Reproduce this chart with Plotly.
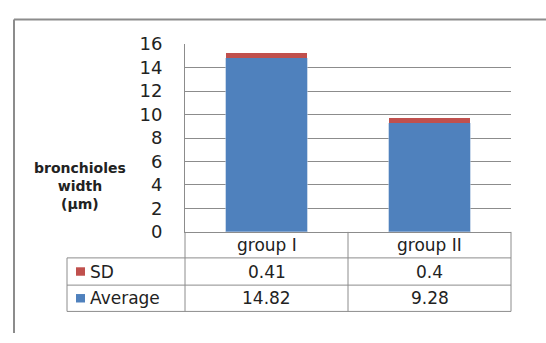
import plotly.graph_objects as go

categories = ["group I", "group II"]
average = [14.82, 9.28]
sd = [0.41, 0.4]
series_names = ["SD", "Average"]
y_ticks = [0, 2, 4, 6, 8, 10, 12, 14, 16]

W, H = 546, 343
BLUE = "#4F81BD"
RED = "#C0504D"
GRID = "#8C8C8C"
TXT = "#222222"
FONT = "DejaVu Sans"

def px(x):
    return x / W

def py(y):
    return 1 - y / H

L, R, T, B = 185, 511, 35.3, 235.3

fig = go.Figure()
fig.add_trace(go.Bar(x=categories, y=average, name="Average", marker=dict(color=BLUE, line=dict(color="#A7BFDE", width=0.6)), width=0.5))
fig.add_trace(go.Bar(x=categories, y=sd, name="SD", marker=dict(color=RED, line=dict(color="#A7BFDE", width=0.0)), width=0.5))

shapes = []
def line(x0, y0, x1, y1, color=GRID, w=1):
    shapes.append(dict(type="line", xref="paper", yref="paper", x0=px(x0), y0=py(y0), x1=px(x1), y1=py(y1), line=dict(color=color, width=w)))

# outer frame
line(14, 9, 546, 9, "#8C8C8C", 2)
line(14, 9, 14, 343, "#8C8C8C", 2)
# table
for yy in [263, 292, 320]:
    line(67, yy, R, yy)
line(67, 263, 67, 320)
for xx in [L, 348, R]:
    line(xx, B, xx, 320)

annotations = []
row_y = {"SD": 277.5, "Average": 306}
vals = {"SD": sd, "Average": average}
for name in series_names:
    color = RED if name == "SD" else BLUE
    shapes.append(dict(type="rect", xref="paper", yref="paper", x0=px(76), x1=px(85), y0=py(row_y[name] + 4.5), y1=py(row_y[name] - 4.5), fillcolor=color, line=dict(width=0)))
    annotations.append(dict(text=name, xref="paper", yref="paper", x=px(88), y=py(row_y[name]), xanchor="left", yanchor="middle", showarrow=False, font=dict(family=FONT, size=17, color=TXT)))
    for c, v in zip(categories, vals[name]):
        annotations.append(dict(text=str(v), xref="x", yref="paper", x=c, y=py(row_y[name]), xanchor="center", yanchor="middle", showarrow=False, font=dict(family=FONT, size=17, color=TXT)))
for c in categories:
    annotations.append(dict(text=c, xref="x", yref="paper", x=c, y=py(249.5), xanchor="center", yanchor="middle", showarrow=False, font=dict(family=FONT, size=17, color=TXT)))

annotations.append(dict(text="<b>bronchioles<br>width<br>(µm)</b>", xref="paper", yref="paper", x=px(80), y=py(186), xanchor="center", yanchor="middle", showarrow=False, align="center", font=dict(family=FONT, size=14, color=TXT)))

fig.update_layout(
    width=W, height=H, margin=dict(l=0, r=0, t=0, b=0),
    paper_bgcolor="white", plot_bgcolor="white",
    barmode="stack", showlegend=False,
    shapes=shapes, annotations=annotations,
    xaxis=dict(domain=[px(L), px(R)], showticklabels=False, showgrid=False, ticks="",
               showline=True, linecolor=GRID, linewidth=1, mirror=False, zeroline=False),
    yaxis=dict(domain=[py(B), py(T)], range=[0, 16], tickvals=y_ticks, showgrid=True, gridcolor=GRID, gridwidth=1,
               showline=True, linecolor=GRID, linewidth=1, zeroline=False, ticks="",
               ticklabelstandoff=18, tickfont=dict(family=FONT, size=18, color=TXT)),
)

fig.write_html("out.html")
